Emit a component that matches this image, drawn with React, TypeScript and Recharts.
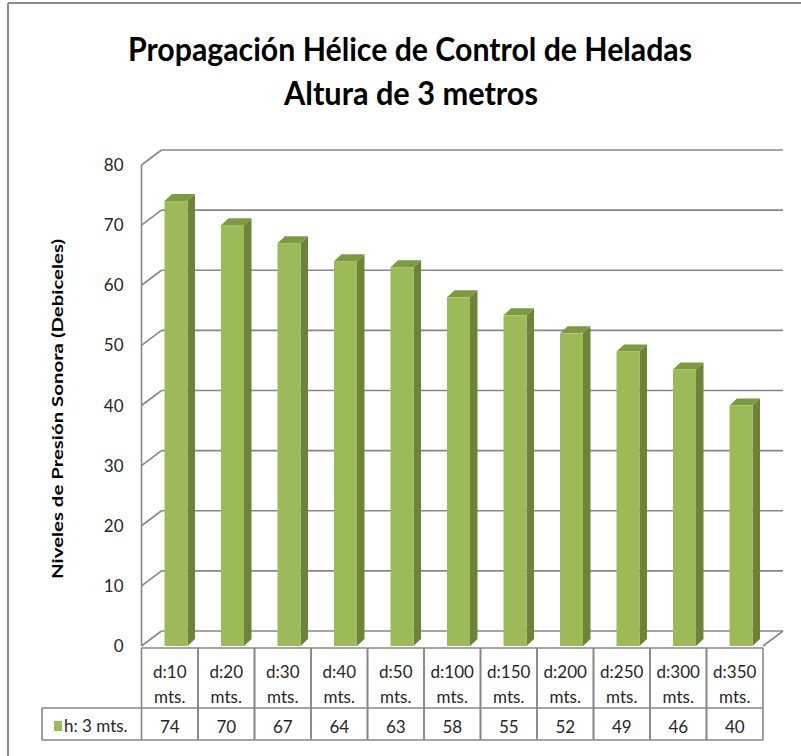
import { Bar, BarChart, CartesianGrid, XAxis, YAxis } from "recharts";

// values
const distances = [
  "d:10 mts.",
  "d:20 mts.",
  "d:30 mts.",
  "d:40 mts.",
  "d:50 mts.",
  "d:100 mts.",
  "d:150 mts.",
  "d:200 mts.",
  "d:250 mts.",
  "d:300 mts.",
  "d:350 mts.",
];
const levels = [74, 70, 67, 64, 63, 58, 55, 52, 49, 46, 40];
const yTicks = [0, 10, 20, 30, 40, 50, 60, 70, 80];
const seriesName = "h: 3 mts.";
const titleLines = ["Propagación Hélice de Control de Heladas", "Altura de 3 metros"];
const yLabel = "Niveles de Presión Sonora (Debiceles)";

const W = 801;
const H = 756;
const PLOT_LEFT = 141.5;
const PLOT_RIGHT = 763;
const PLOT_TOP = 165;
const PLOT_BOTTOM = 646;
const COL_W = (PLOT_RIGHT - PLOT_LEFT) / distances.length;
// 3D wall offset (back wall relative to front plane)
const DX = 20;
const DY = -15;
// bar depth
const BDX = 7.5;
const BDY = -7;

const TABLE_TOP = 648;
const TABLE_MID = 708;
const TABLE_BOTTOM = 740;
const LEGEND_LEFT = 42;

const FONT = "Lato, 'Noto Sans', sans-serif";
const GRID = "#878787";
const TEXT = "#262626";

const data = distances.map((d, i) => ({ dist: d, level: levels[i] }));

function WallLine(props: any) {
  const { x1, x2, y1 } = props;
  const atFloor = Math.abs(y1 - PLOT_BOTTOM) < 1;
  return (
    <g key={`wall-${y1}`} stroke={GRID} strokeWidth={1.6} fill="none">
      <line x1={x1} y1={y1} x2={x1 + DX} y2={y1 + DY} />
      <line x1={x1 + DX} y1={y1 + DY} x2={x2 + DX} y2={y1 + DY} />
      {atFloor && <line x1={x2} y1={y1} x2={x2 + DX} y2={y1 + DY} />}
    </g>
  );
}

function Bar3D(props: any) {
  const { x, y, width, height } = props;
  if (!height || height <= 0) return null;
  const fx = x + 6;
  const r = fx + width;
  const b = y + height;
  return (
    <g>
      <polygon
        points={`${r},${y} ${r + BDX},${y + BDY} ${r + BDX},${b + BDY} ${r},${b}`}
        fill="#6B8437"
      />
      <polygon
        points={`${fx},${y} ${r},${y} ${r + BDX},${y + BDY} ${fx + BDX},${y + BDY}`}
        fill="#7B9A42"
      />
      <rect x={fx} y={y} width={width} height={height} fill="#9BBB59" />
    </g>
  );
}

function TableTick(props: any) {
  const { x, payload } = props;
  const idx = props.index ?? payload.index;
  const [l1, l2] = String(payload.value).split(" ");
  const left = x - COL_W / 2;
  const right = x + COL_W / 2;
  const ls = { stroke: GRID, strokeWidth: 1.6 };
  return (
    <g fontFamily={FONT} fontSize={17} fill={TEXT}>
      <line x1={left} y1={TABLE_TOP} x2={right} y2={TABLE_TOP} {...ls} />
      <line x1={left} y1={TABLE_MID} x2={right} y2={TABLE_MID} {...ls} />
      <line x1={left} y1={TABLE_BOTTOM} x2={right} y2={TABLE_BOTTOM} {...ls} />
      <line x1={left} y1={TABLE_TOP} x2={left} y2={TABLE_BOTTOM} {...ls} />
      <line x1={right} y1={TABLE_TOP} x2={right} y2={TABLE_BOTTOM} {...ls} />
      <text x={x} y={678} textAnchor="middle">{l1}</text>
      <text x={x} y={703} textAnchor="middle">{l2}</text>
      <text x={x} y={733} textAnchor="middle">{levels[idx]}</text>
    </g>
  );
}

export default function App() {
  return (
    <div style={{ position: "absolute", left: 0, top: 0, width: W, height: H, background: "#fff" }}>
      <BarChart
        width={W}
        height={H}
        data={data}
        barSize={23}
        margin={{ top: PLOT_TOP, right: W - PLOT_RIGHT, bottom: H - PLOT_BOTTOM - 94, left: PLOT_LEFT - 60 }}
      >
        <CartesianGrid vertical={false} horizontal={WallLine} />
        <XAxis
          dataKey="dist"
          height={94}
          interval={0}
          axisLine={false}
          tickLine={false}
          tick={TableTick}
        />
        <YAxis
          width={60}
          domain={[0, 80]}
          ticks={yTicks}
          tickLine={false}
          tickSize={6}
          tickMargin={12}
          axisLine={{ stroke: GRID, strokeWidth: 1.6 }}
          tick={{ fontSize: 17, fill: TEXT, fontFamily: FONT }}
        />
        <Bar dataKey="level" name={seriesName} shape={Bar3D} isAnimationActive={false} />
      </BarChart>
      <svg
        width={W}
        height={H}
        style={{ position: "absolute", left: 0, top: 0, pointerEvents: "none" }}
      >
        <line x1={8} y1={3} x2={W} y2={3} stroke="#8a8a8a" strokeWidth={2} />
        <line x1={8} y1={3} x2={8} y2={H} stroke="#8a8a8a" strokeWidth={2} />
        <text
          x={410}
          y={61}
          textAnchor="middle"
          textLength={564}
          lengthAdjust="spacingAndGlyphs"
          fontFamily={FONT}
          fontWeight="bold"
          fontSize={33}
          fill="#000"
        >
          {titleLines[0]}
        </text>
        <text
          x={411}
          y={105}
          textAnchor="middle"
          textLength={254}
          lengthAdjust="spacingAndGlyphs"
          fontFamily={FONT}
          fontWeight="bold"
          fontSize={33}
          fill="#000"
        >
          {titleLines[1]}
        </text>
        <text
          x={0}
          y={0}
          transform="translate(63 409) rotate(-90)"
          textAnchor="middle"
          textLength={340}
          lengthAdjust="spacingAndGlyphs"
          fontFamily={FONT}
          fontWeight="bold"
          fontSize={16}
          fill="#000"
        >
          {yLabel}
        </text>
        <g stroke={GRID} strokeWidth={1.6}>
          <line x1={LEGEND_LEFT} y1={TABLE_MID} x2={PLOT_LEFT} y2={TABLE_MID} />
          <line x1={LEGEND_LEFT} y1={TABLE_BOTTOM} x2={PLOT_LEFT} y2={TABLE_BOTTOM} />
          <line x1={LEGEND_LEFT} y1={TABLE_MID} x2={LEGEND_LEFT} y2={TABLE_BOTTOM} />
        </g>
        <rect x={54} y={721} width={8} height={10} fill="#9BBB59" />
        <text x={64} y={732} fontFamily={FONT} fontSize={17} fill={TEXT}>
          {seriesName}
        </text>
      </svg>
    </div>
  );
}
